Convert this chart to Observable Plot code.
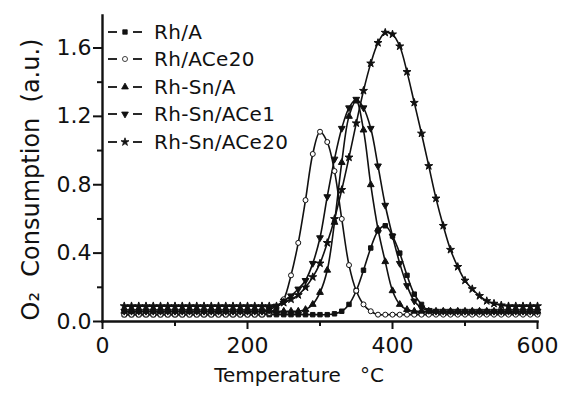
<!DOCTYPE html>
<html><head><meta charset="utf-8">
<script src="https://cdn.jsdelivr.net/npm/d3@7"></script>
<script src="https://cdn.jsdelivr.net/npm/@observablehq/plot@0.6"></script>
<style>
body{margin:0;background:#fff;}
#wrap{position:relative;width:562px;height:393px;font-family:"DejaVu Sans",sans-serif;color:#111;}
#legend{position:absolute;left:104px;top:18px;font-size:20px;letter-spacing:0.3px;}
#legend .row{height:27.5px;display:flex;align-items:center;}
#legend svg{margin-right:10px;}
</style></head><body><div id="wrap"><div id="legend"></div></div>
<script>
// Temperature (°C)
const temps = [30,40,50,60,70,80,90,100,110,120,130,140,150,160,170,180,190,200,210,220,
  230,240,250,260,270,280,290,300,310,320,330,340,350,360,370,380,390,400,410,420,
  430,440,450,460,470,480,490,500,510,520,530,540,550,560,570,580,590,600];

// O2 consumption (a.u.)
const rhA = [0.04,0.04,0.04,0.04,0.04,0.04,0.04,0.04,0.04,0.04,0.04,0.04,0.04,0.04,0.04,0.04,0.04,0.04,0.04,0.04,
  0.04,0.04,0.04,0.04,0.04,0.04,0.04,0.04,0.04,0.045,0.06,0.10,0.18,0.30,0.43,0.53,0.56,0.50,0.40,0.27,
  0.16,0.10,0.06,0.05,0.05,0.05,0.05,0.05,0.05,0.05,0.05,0.05,0.05,0.05,0.05,0.05,0.05,0.05];
const rhACe20 = [0.04,0.04,0.04,0.04,0.04,0.04,0.04,0.04,0.04,0.04,0.04,0.04,0.04,0.04,0.04,0.04,0.04,0.04,0.04,0.04,
  0.05,0.08,0.13,0.27,0.46,0.71,0.98,1.11,1.05,0.88,0.60,0.33,0.18,0.10,0.06,0.04,0.04,0.04,0.04,0.04,
  0.04,0.04,0.04,0.04,0.04,0.04,0.04,0.04,0.04,0.04,0.04,0.04,0.04,0.04,0.04,0.04,0.04,0.04];
const rhSnA = [0.06,0.06,0.06,0.06,0.06,0.06,0.06,0.06,0.06,0.06,0.06,0.06,0.06,0.06,0.06,0.06,0.06,0.06,0.06,0.06,
  0.06,0.06,0.06,0.06,0.06,0.07,0.10,0.17,0.30,0.58,0.93,1.20,1.29,1.12,0.80,0.54,0.35,0.18,0.10,0.07,
  0.06,0.06,0.06,0.06,0.06,0.06,0.06,0.06,0.06,0.06,0.06,0.06,0.06,0.06,0.06,0.06,0.06,0.06];
const rhSnACe1 = [0.06,0.06,0.06,0.06,0.06,0.06,0.06,0.06,0.06,0.06,0.06,0.06,0.06,0.06,0.06,0.06,0.06,0.06,0.06,0.06,
  0.07,0.09,0.12,0.15,0.19,0.24,0.34,0.49,0.73,0.95,1.13,1.25,1.30,1.25,1.13,0.91,0.68,0.50,0.34,0.21,
  0.12,0.08,0.065,0.06,0.06,0.06,0.06,0.06,0.06,0.06,0.06,0.06,0.06,0.06,0.06,0.06,0.06,0.06];
const rhSnACe20 = [0.09,0.09,0.09,0.09,0.09,0.09,0.09,0.09,0.09,0.09,0.09,0.09,0.09,0.09,0.09,0.09,0.09,0.09,0.09,0.09,
  0.09,0.09,0.11,0.13,0.155,0.20,0.26,0.34,0.46,0.60,0.77,0.96,1.16,1.35,1.51,1.63,1.69,1.68,1.61,1.46,
  1.28,1.10,0.91,0.72,0.56,0.42,0.32,0.24,0.19,0.15,0.12,0.105,0.095,0.09,0.09,0.09,0.09,0.09];

const seriesNames = ["Rh/A","Rh/ACe20","Rh-Sn/A","Rh-Sn/ACe1","Rh-Sn/ACe20"];
const seriesValues = [rhA, rhACe20, rhSnA, rhSnACe1, rhSnACe20];
const xTicks = [0,200,400,600];
const xMinor = [100,300,500];
const yTicks = [0,0.4,0.8,1.2,1.6];
const yMinor = [0.2,0.6,1.0,1.4];

const triDown = {draw(ctx, size){
  const y = -Math.sqrt(size / (3 * Math.sqrt(3))), s3 = Math.sqrt(3);
  ctx.moveTo(0, -y * 2); ctx.lineTo(-s3 * y, y); ctx.lineTo(s3 * y, y); ctx.closePath();
}};
const symbols = [d3.symbolSquare, d3.symbolCircle, d3.symbolTriangle, triDown, d3.symbolStar];
const fills = ["#111","#fff","#111","#111","#111"];

const rows = seriesNames.flatMap((n, k) => temps.map((t, i) => ({T: t, v: seriesValues[k][i], name: n})));

const ink = "#111";
const font = "DejaVu Sans, sans-serif";
const plot = Plot.plot({
  width: 562, height: 393,
  marginLeft: 102, marginRight: 25, marginTop: 15, marginBottom: 72,
  style: {fontFamily: font, fontSize: "21px", color: ink, background: "#fff"},
  x: {domain: [0, 600]},
  y: {domain: [0, 1.79]},
  symbol: {domain: seriesNames, range: symbols},
  marks: [
    Plot.line(rows, {x: "T", y: "v", z: "name", stroke: ink, strokeWidth: 1.6, curve: "catmull-rom"}),
    Plot.dot(rows, {x: "T", y: "v", symbol: "name", r: 2.5, stroke: ink, strokeWidth: 1,
      fill: d => fills[seriesNames.indexOf(d.name)]}),
    Plot.frame({anchor: "bottom", stroke: ink, strokeWidth: 2.4}),
    Plot.frame({anchor: "left", stroke: ink, strokeWidth: 2.4}),
    Plot.axisX({ticks: xTicks, tickSize: 8, tickPadding: 8, label: null, strokeWidth: 2, fontSize: "22px", fontFamily: font, fill: ink}),
    Plot.axisX({ticks: xMinor, tickSize: 5, text: null, label: null, strokeWidth: 2}),
    Plot.axisY({ticks: yTicks, tickSize: 9, tickPadding: 2, tickFormat: d3.format(".1f"), label: null, strokeWidth: 2, fontSize: "22px", fontFamily: font, fill: ink}),
    Plot.axisY({ticks: yMinor, tickSize: 5, text: null, label: null, strokeWidth: 2}),
    Plot.text(["Temperature   °C"], {frameAnchor: "bottom", dy: 60, dx: -21, fontSize: "20px", fontFamily: font, fill: ink}),
    Plot.text(["O\u2082  Consumption  (a.u.)"], {frameAnchor: "left", textAnchor: "middle", rotate: -90, dx: -71, dy: 11, fontSize: "24px", fontFamily: font, fill: ink})
  ]
});
const wrap = document.getElementById("wrap");
wrap.insertBefore(plot, wrap.firstChild);

// legend overlay
const legend = d3.select("#legend");
seriesNames.forEach((n, k) => {
  const row = legend.append("div").attr("class", "row");
  const svg = row.append("svg").attr("width", 40).attr("height", 20);
  svg.append("line").attr("x1", 4).attr("x2", 13).attr("y1", 10).attr("y2", 10).attr("stroke", ink).attr("stroke-width", 1.8);
  svg.append("line").attr("x1", 29).attr("x2", 38).attr("y1", 10).attr("y2", 10).attr("stroke", ink).attr("stroke-width", 1.8);
  svg.append("path").attr("transform", "translate(21,10)")
    .attr("d", d3.symbol(symbols[k], 20)()).attr("fill", fills[k]).attr("stroke", ink).attr("stroke-width", 0.8);
  row.append("span").text(n);
});
</script></body></html>
